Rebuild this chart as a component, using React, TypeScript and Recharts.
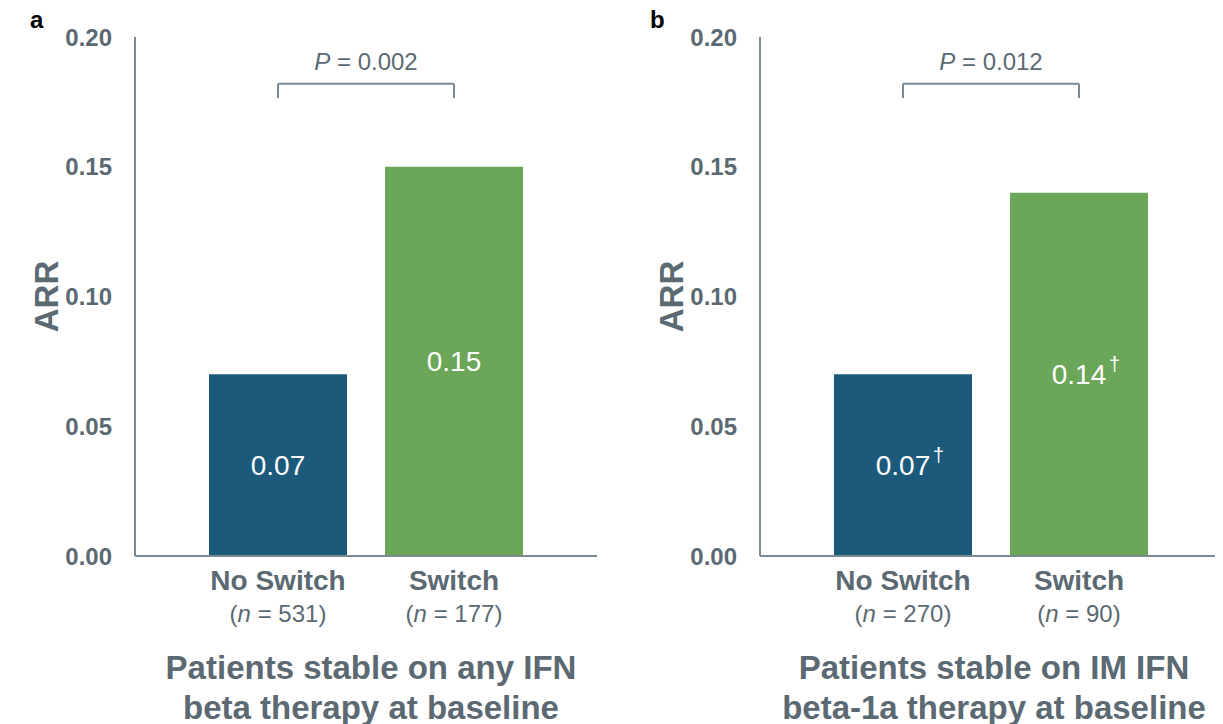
import React from 'react';
import { BarChart, Bar, XAxis, YAxis, Cell, LabelList, ReferenceLine } from 'recharts';

const categories = ['No Switch', 'Switch'];
const yTicks = [0, 0.05, 0.1, 0.15, 0.2];

const arrA = [0.07, 0.15];
const nA = [531, 177];
const noteA = ['', ''];
const pValueA = '0.002';
const titleA = ['Patients stable on any IFN', 'beta therapy at baseline'];

const arrB = [0.07, 0.14];
const nB = [270, 90];
const noteB = ['\u2020', '\u2020'];
const pValueB = '0.012';
const titleB = ['Patients stable on IM IFN', 'beta-1a therapy at baseline'];

const barColors = ['#1c5a7c', '#6ca658'];
const grey = '#5b6a72';
const axisGrey = '#7b8a92';
const font = '"Liberation Sans", Arial, sans-serif';

const bracketY = 0.182;
const bracketFoot = 0.1765;

const XTick = (props: any) => {
  const { x, y, payload, counts } = props;
  const i = categories.indexOf(payload.value);
  return (
    <g>
      <text x={x} y={y + 26} textAnchor="middle" fontSize={28} fontWeight="bold" fill={grey} fontFamily={font}>
        {payload.value}
      </text>
      <text x={x} y={y + 58} textAnchor="middle" fontSize={24} fill={grey} fontFamily={font}>
        (<tspan fontStyle="italic">n</tspan> = {counts[i]})
      </text>
    </g>
  );
};

const BarValue = (props: any) => {
  const { x, y, width, height, value, index, notes } = props;
  const cx = x + width / 2;
  const base = y + height / 2 + 10;
  return (
    <g>
      <text x={cx} y={base} textAnchor="middle" fontSize={28} fill="#ffffff" fontFamily={font}>
        {value.toFixed(2)}
      </text>
      {notes[index] ? (
        <text x={cx + 30} y={base - 13} fontSize={20} fill="#ffffff" fontFamily={font}>
          {notes[index]}
        </text>
      ) : null}
    </g>
  );
};

function Panel({ arr, counts, notes, pValue, width, right }: any) {
  const data = categories.map((c, i) => ({ name: c, arr: arr[i] }));
  return (
    <BarChart width={width} height={724} data={data} margin={{ top: 37, right, bottom: 0, left: 0 }}>
      <YAxis
        width={135}
        domain={[0, 0.2]}
        ticks={yTicks}
        tickFormatter={(v: number) => v.toFixed(2)}
        tickLine={false}
        tickMargin={17}
        axisLine={{ stroke: axisGrey, strokeWidth: 2 }}
        tick={{ fontSize: 24, fontWeight: 'bold', fill: grey, fontFamily: font }}
        label={(p: any) => (
          <text
            x={46}
            y={p.viewBox.y + p.viewBox.height / 2}
            transform={`rotate(-90 46 ${p.viewBox.y + p.viewBox.height / 2})`}
            textAnchor="middle"
            dominantBaseline="central"
            fontSize={33}
            fontWeight="bold"
            fill={grey}
            fontFamily={font}
          >
            ARR
          </text>
        )}
      />
      <XAxis
        dataKey="name"
        height={168}
        padding={{ left: 55, right: 55 }}
        tickLine={false}
        axisLine={{ stroke: axisGrey, strokeWidth: 2 }}
        interval={0}
        tick={<XTick counts={counts} />}
      />
      <Bar dataKey="arr" barSize={138} isAnimationActive={false}>
        {data.map((d, i) => (
          <Cell key={d.name} fill={barColors[i]} />
        ))}
        <LabelList dataKey="arr" content={<BarValue notes={notes} />} />
      </Bar>
      <ReferenceLine
        segment={[
          { x: categories[0], y: bracketY },
          { x: categories[1], y: bracketY },
        ]}
        stroke={axisGrey}
        strokeWidth={2}
        label={(p: any) => (
          <text
            x={p.viewBox.x + p.viewBox.width / 2}
            y={p.viewBox.y - 14}
            textAnchor="middle"
            fontSize={24}
            fill={grey}
            fontFamily={font}
          >
            <tspan fontStyle="italic">P</tspan> = {pValue}
          </text>
        )}
      />
      {categories.map((c) => (
        <ReferenceLine
          key={c}
          segment={[
            { x: c, y: bracketY },
            { x: c, y: bracketFoot },
          ]}
          stroke={axisGrey}
          strokeWidth={2}
        />
      ))}
    </BarChart>
  );
}

const titleStyle = (cx: number): React.CSSProperties => ({
  position: 'absolute',
  left: cx - 300,
  width: 600,
  top: 648,
  textAlign: 'center',
  fontFamily: font,
  fontWeight: 'bold',
  fontSize: 33,
  lineHeight: '40px',
  color: grey,
});

const panelLetter = (x: number): React.CSSProperties => ({
  position: 'absolute',
  left: x,
  top: 6,
  fontFamily: font,
  fontWeight: 'bold',
  fontSize: 24,
  color: '#000',
});

export default function App() {
  return (
    <div style={{ position: 'relative', width: 1223, height: 724, marginLeft: -8, marginTop: -8, background: '#fff' }}>
      <div style={{ position: 'absolute', left: 0, top: 0 }}>
        <Panel arr={arrA} counts={nA} notes={noteA} pValue={pValueA} width={625} right={28} />
      </div>
      <div style={{ position: 'absolute', left: 625, top: 0 }}>
        <Panel arr={arrB} counts={nB} notes={noteB} pValue={pValueB} width={598} right={1} />
      </div>
      <div style={panelLetter(30)}>a</div>
      <div style={panelLetter(650)}>b</div>
      <div style={titleStyle(371)}>
        {titleA[0]}
        <br />
        {titleA[1]}
      </div>
      <div style={titleStyle(994)}>
        {titleB[0]}
        <br />
        {titleB[1]}
      </div>
    </div>
  );
}
